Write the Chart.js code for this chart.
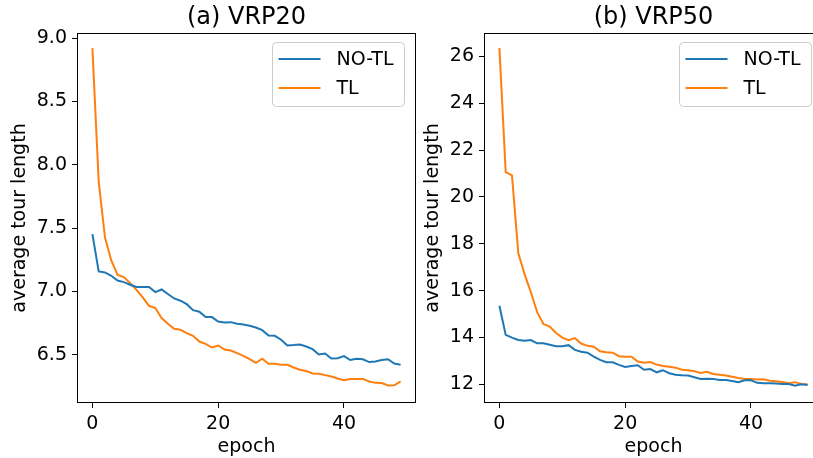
<!DOCTYPE html>
<html><head><meta charset="utf-8">
<script src="https://cdn.jsdelivr.net/npm/chart.js@4.4.0/dist/chart.umd.min.js"></script>
<style>
html,body{margin:0;padding:0;background:#fff;}
#wrap{position:relative;width:813px;height:458px;overflow:hidden;background:#fff;}
canvas{position:absolute;top:0;}
#c1{left:0;} #c2{left:407px;}
</style></head><body>
<div id="wrap"><canvas id="c1" width="430" height="458"></canvas><canvas id="c2" width="430" height="458"></canvas></div>
<script>
const epochs = [0,1,2,3,4,5,6,7,8,9,10,11,12,13,14,15,16,17,18,19,20,21,22,23,24,25,26,27,28,29,30,31,32,33,34,35,36,37,38,39,40,41,42,43,44,45,46,47,48,49];
const seriesLabels = ['NO-TL', 'TL'];
const panelTitles = ['(a) VRP20', '(b) VRP50'];
const xTitle = 'epoch';
const yTitle = 'average tour length';
const xTicks = [0, 20, 40];
const vrp20Ticks = [6.5, 7.0, 7.5, 8.0, 8.5, 9.0];
const vrp50Ticks = [12, 14, 16, 18, 20, 22, 24, 26];

const vrp20NoTL = [7.453,7.158,7.150,7.124,7.087,7.074,7.053,7.035,7.035,7.035,
  6.995,7.016,6.980,6.945,6.927,6.900,6.853,6.840,6.798,6.798,
  6.763,6.755,6.758,6.745,6.740,6.729,6.716,6.695,6.653,6.650,
  6.619,6.574,6.577,6.582,6.566,6.545,6.503,6.510,6.471,6.474,
  6.490,6.459,6.470,6.465,6.443,6.448,6.459,6.465,6.432,6.422];
const vrp20TL = [8.921,7.868,7.425,7.245,7.130,7.114,7.066,7.013,6.953,6.887,
  6.869,6.790,6.745,6.706,6.698,6.672,6.650,6.605,6.587,6.558,
  6.574,6.542,6.534,6.514,6.492,6.466,6.437,6.469,6.429,6.429,
  6.421,6.421,6.400,6.382,6.372,6.353,6.350,6.340,6.329,6.313,
  6.300,6.310,6.310,6.310,6.290,6.279,6.277,6.258,6.260,6.290];
const vrp50NoTL = [15.35,14.11,13.99,13.89,13.86,13.89,13.75,13.75,13.69,13.62,
  13.62,13.67,13.47,13.39,13.35,13.18,13.04,12.94,12.94,12.83,
  12.74,12.78,12.81,12.62,12.65,12.51,12.60,12.47,12.41,12.38,
  12.37,12.30,12.23,12.24,12.23,12.18,12.18,12.14,12.09,12.17,
  12.17,12.06,12.04,12.04,12.03,12.01,12.01,11.94,12.00,11.97];
const vrp50TL = [26.36,21.06,20.92,17.60,16.70,15.93,15.08,14.57,14.46,14.19,
  13.99,13.88,13.97,13.74,13.64,13.60,13.41,13.37,13.35,13.20,
  13.18,13.18,12.97,12.92,12.95,12.84,12.78,12.75,12.71,12.62,
  12.60,12.56,12.48,12.53,12.44,12.41,12.37,12.32,12.27,12.23,
  12.23,12.20,12.21,12.15,12.13,12.10,12.04,12.09,12.01,12.00];

const F = 'DejaVu Sans';
const colors = ['#1f77b4', '#ff7f0e'];

const deco = {
  id: 'deco',
  afterDraw(chart, args, opts) {
    const ctx = chart.ctx, ca = chart.chartArea;
    ctx.save();
    // frame (all four spines)
    ctx.strokeStyle = '#000';
    ctx.lineWidth = 1;
    ctx.strokeRect(ca.left + 0.5, ca.top + 0.5, ca.right - ca.left - 1, ca.bottom - ca.top - 1);
    // title
    ctx.fillStyle = '#000';
    ctx.font = '24px "' + F + '"';
    ctx.textAlign = 'center';
    ctx.textBaseline = 'middle';
    ctx.fillText(opts.title, (ca.left + ca.right) / 2, 18);
    // legend
    const bx = ca.left + 195.5, by = ca.top + 9.5, bw = 132, bh = 64, r = 4;
    ctx.beginPath();
    ctx.moveTo(bx + r, by);
    ctx.lineTo(bx + bw - r, by);
    ctx.quadraticCurveTo(bx + bw, by, bx + bw, by + r);
    ctx.lineTo(bx + bw, by + bh - r);
    ctx.quadraticCurveTo(bx + bw, by + bh, bx + bw - r, by + bh);
    ctx.lineTo(bx + r, by + bh);
    ctx.quadraticCurveTo(bx, by + bh, bx, by + bh - r);
    ctx.lineTo(bx, by + r);
    ctx.quadraticCurveTo(bx, by, bx + r, by);
    ctx.closePath();
    ctx.fillStyle = 'rgba(255,255,255,0.8)';
    ctx.fill();
    ctx.strokeStyle = '#cccccc';
    ctx.lineWidth = 1;
    ctx.stroke();
    chart.data.datasets.forEach((ds, i) => {
      const y = by + 16.5 + i * 29;
      ctx.beginPath();
      ctx.moveTo(bx + 6, y);
      ctx.lineTo(bx + 48, y);
      ctx.strokeStyle = ds.borderColor;
      ctx.lineWidth = 2;
      ctx.stroke();
      ctx.fillStyle = '#000';
      ctx.font = '19px "' + F + '"';
      ctx.textAlign = 'left';
      ctx.textBaseline = 'middle';
      ctx.fillText(ds.label, bx + 64, y + 1);
    });
    ctx.restore();
  }
};

function makeChart(id, title, noTL, tl, yMin, yMax, yStep, yTicks, dec, yTitlePad) {
  return new Chart(document.getElementById(id), {
    type: 'line',
    data: {
      datasets: [
        { label: seriesLabels[0], data: epochs.map((e, i) => ({ x: e, y: noTL[i] })),
          borderColor: colors[0], borderWidth: 2, pointRadius: 0, tension: 0, fill: false },
        { label: seriesLabels[1], data: epochs.map((e, i) => ({ x: e, y: tl[i] })),
          borderColor: colors[1], borderWidth: 2, pointRadius: 0, tension: 0, fill: false }
      ]
    },
    options: {
      responsive: false, animation: false, devicePixelRatio: 1,
      layout: { padding: { left: 0, right: 14, top: 33, bottom: 0 } },
      plugins: { legend: { display: false }, title: { display: false }, tooltip: { enabled: false }, deco: { title: title } },
      scales: {
        x: {
          type: 'linear', min: -2.45, max: 51.45,
          afterFit: s => { s.height = 55; },
          afterBuildTicks: s => { s.ticks = xTicks.map(v => ({ value: v })); },
          ticks: { stepSize: 20, includeBounds: false, font: { family: F, size: 19 }, color: '#000', padding: 5, maxRotation: 0, autoSkip: false },
          grid: { drawOnChartArea: false, drawTicks: true, tickLength: 5, color: '#000', lineWidth: 1 },
          border: { display: false },
          title: { display: true, text: xTitle, font: { family: F, size: 19, lineHeight: 1.1 }, color: '#000', padding: { top: 0, bottom: 0 } }
        },
        y: {
          type: 'linear', min: yMin, max: yMax,
          afterFit: s => { s.width = 77; },
          afterBuildTicks: s => { s.ticks = yTicks.map(v => ({ value: v })); },
          ticks: { stepSize: yStep, includeBounds: false, font: { family: F, size: 19 }, color: '#000', padding: 5, autoSkip: false,
                   callback: v => Number(v).toFixed(dec) },
          grid: { drawOnChartArea: false, drawTicks: true, tickLength: 5, color: '#000', lineWidth: 1 },
          border: { display: false },
          title: { display: true, text: yTitle, font: { family: F, size: 19 }, color: '#000', padding: { top: yTitlePad, bottom: 0 } }
        }
      }
    },
    plugins: [deco]
  });
}

makeChart('c1', panelTitles[0], vrp20NoTL, vrp20TL, 6.12, 9.04, 0.5, vrp20Ticks, 1, 8.6);
makeChart('c2', panelTitles[1], vrp50NoTL, vrp50TL, 11.2, 27.0, 2, vrp50Ticks, 0, 14.6);
</script>
</body></html>
